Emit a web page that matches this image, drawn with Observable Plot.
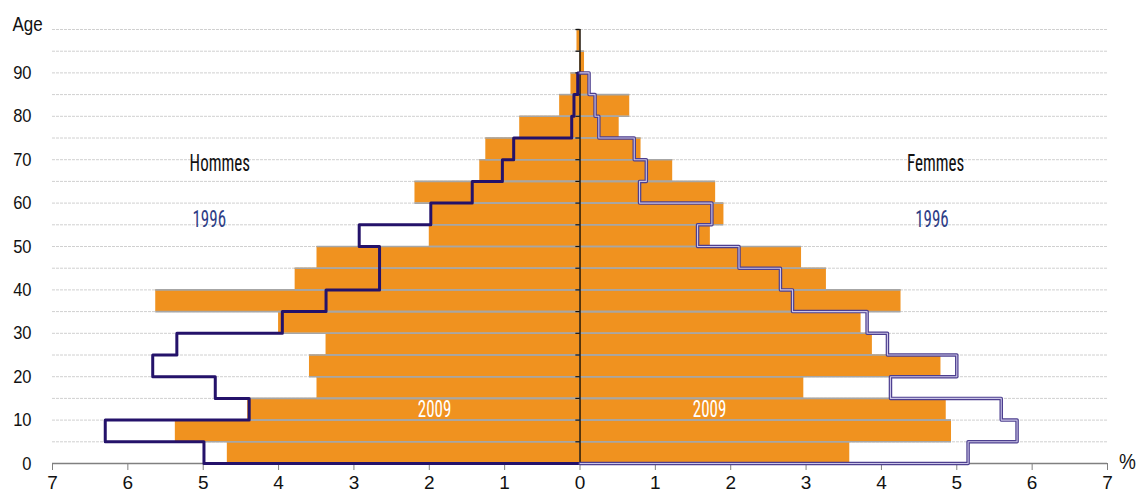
<!DOCTYPE html>
<html><head><meta charset="utf-8">
<script src="https://cdn.jsdelivr.net/npm/d3@7"></script>
<script src="https://cdn.jsdelivr.net/npm/@observablehq/plot@0.6"></script>
<style>
body{margin:0;background:#fff;}
#chart svg{display:block;}
</style>
</head><body><div id="chart"></div>
<script>
// Age bands (start of each 5-year band)
const ageBands = [0,5,10,15,20,25,30,35,40,45,50,55,60,65,70,75,80,85,90,95];
// Share of total population (%) – 2009 (bars)
const men2009   = [4.68,5.37,4.41,3.49,3.59,3.37,4.00,5.63,3.78,3.49,2.00,1.97,2.19,1.33,1.25,0.80,0.27,0.12,0.00,0.04];
const women2009 = [3.58,4.93,4.86,2.97,4.79,3.88,3.73,4.26,3.27,2.94,1.73,1.91,1.80,1.23,0.81,0.52,0.66,0.12,0.06,0.01];
// Share of total population (%) – 1996 (outline)
const men1996   = [4.99,6.30,4.39,4.84,5.67,5.35,3.95,3.37,2.66,2.66,2.93,1.98,1.43,1.03,0.88,0.11,0.08,0.03,0,0];
const women1996 = [5.15,5.80,5.59,4.12,5.00,4.08,3.81,2.82,2.66,2.11,1.56,1.75,0.79,0.88,0.72,0.25,0.20,0.12,0,0];
// Axis ticks
const xTicks = [-7,-6,-5,-4,-3,-2,-1,0,1,2,3,4,5,6,7];
const yTicks = [0,10,20,30,40,50,60,70,80,90];
const gridAges = [5,10,15,20,25,30,35,40,45,50,55,60,65,70,75,80,85,90,95,100];
// Annotation labels (data coordinates: % , age)
const sexLabels  = [{text:"Hommes", x:-4.78, y:69.2}, {text:"Femmes", x:4.72, y:69.2}];
const yearLabels = [{text:"1996", x:-4.92, y:56.4}, {text:"1996", x:4.67, y:56.4}];
const barLabels  = [{text:"2009", x:-1.93, y:12.7}, {text:"2009", x:1.72, y:12.7}];

const bandW = 5;
const bars = ageBands.flatMap((a, i) => [
  {age: a, v: -men2009[i]},
  {age: a, v: women2009[i]}
]);
const edges = bars.flatMap(d => [{y: d.age, v: d.v}, {y: d.age + bandW, v: d.v}]).filter(d => d.v !== 0);

function steps(vals, sign) {
  let last = -1;
  vals.forEach((v, i) => { if (v > 0) last = i; });
  const pts = [{x: 0, y: 0}];
  for (let i = 0; i <= last; i++) {
    pts.push({x: sign * vals[i], y: ageBands[i]});
    pts.push({x: sign * vals[i], y: ageBands[i] + bandW});
  }
  pts.push({x: 0, y: ageBands[last] + bandW});
  return pts;
}
const menLine = steps(men1996, -1);
const womenLine = steps(women1996, 1);

const ORANGE = "#F0921F";
const FONT = "'Liberation Sans', Arial, sans-serif";
const NARROW = "'Liberation Sans Narrow', 'Arial Narrow', 'Roboto Condensed', sans-serif";

const chart = Plot.plot({
  width: 1137,
  height: 495,
  marginLeft: 52,
  marginRight: 30,
  marginTop: 29,
  marginBottom: 32,
  x: {domain: [-7, 7], label: null},
  y: {domain: [0, 100], label: null},
  style: {fontFamily: FONT, background: "#fff", color: "#111"},
  marks: [
    Plot.ruleY(gridAges, {stroke: "#d0d0d0", strokeWidth: 1, strokeDasharray: "3,1"}),
    Plot.rect(bars, {x1: 0, x2: "v", y1: "age", y2: d => d.age + bandW, fill: ORANGE, inset: 0}),
    Plot.ruleY(edges, {y: "y", x1: 0, x2: "v", stroke: "#a6a6a6", strokeWidth: 1.6}),
    Plot.ruleY([0], {stroke: "#808080", strokeWidth: 1.5}),
    Plot.axisX({ticks: xTicks, tickFormat: d => Math.abs(d), tickSize: 7, tickPadding: 5, stroke: "#808080", fontSize: 19, fill: "#111", label: null}),
    Plot.axisY({ticks: yTicks, tickSize: 0, tickPadding: 21, anchor: "left", fontSize: 16.5, fill: "#111", label: null}),
    Plot.ruleY(gridAges, {y: d => d, x1: -0.055, x2: 0, stroke: "#111", strokeWidth: 1.2}),
    Plot.ruleX([0], {y1: 0, y2: 100, stroke: "#000", strokeWidth: 1.3}),
    Plot.line(menLine, {x: "x", y: "y", stroke: "#24126a", strokeWidth: 3, curve: "linear"}),
    Plot.line(womenLine, {x: "x", y: "y", stroke: "#4d3f8f", strokeWidth: 3.5, curve: "linear"}),
    Plot.line(womenLine, {x: "x", y: "y", stroke: "#cbc5e8", strokeWidth: 1.1, curve: "linear"}),
    Plot.text(sexLabels, {x: "x", y: "y", text: "text", fontFamily: NARROW, fontSize: 17, fill: "#111"}),
    Plot.text(yearLabels, {x: "x", y: "y", text: "text", fontFamily: NARROW, fontSize: 17, fill: "#2e3d86"}),
    Plot.text(barLabels, {x: "x", y: "y", text: "text", fontFamily: NARROW, fontSize: 17, fill: "#ffffff"}),
    Plot.text(["Age"], {frameAnchor: "top-left", textAnchor: "middle", lineAnchor: "middle", dx: -25, dy: -5, fontSize: 17, fill: "#111", text: d => d}),
    Plot.text(["%"], {frameAnchor: "bottom-right", textAnchor: "middle", lineAnchor: "middle", dx: 20, dy: -2, fontSize: 19, fill: "#111", text: d => d})
  ]
});

document.getElementById("chart").appendChild(chart);

// the original picture's lettering is vertically stretched: wrap texts in a scaling group
const svgRect = chart.getBoundingClientRect();
const NS = "http://www.w3.org/2000/svg";
chart.querySelectorAll("text").forEach(t => {
  const r = t.getBoundingClientRect();
  if (!r.width) return;
  const grp = t.closest("g");
  const fam = (t.getAttribute("font-family") || (grp && grp.getAttribute("font-family")) || "");
  const aria = (grp && grp.getAttribute("aria-label")) || "";
  if (aria.startsWith("x-axis")) return;
  const k = fam.includes("Narrow") ? 1.45 : 1.15;
  const cy = r.top + r.height / 2 - svgRect.top;
  const parent = t.parentNode;
  const ctm = parent.getCTM ? parent.getCTM() : null;
  const localCy = ctm ? (cy - ctm.f) / ctm.d : cy;
  const g = document.createElementNS(NS, "g");
  g.setAttribute("transform", `translate(0,${localCy}) scale(1,${k}) translate(0,${-localCy})`);
  parent.insertBefore(g, t);
  g.appendChild(t);
});
</script>
</body></html>
